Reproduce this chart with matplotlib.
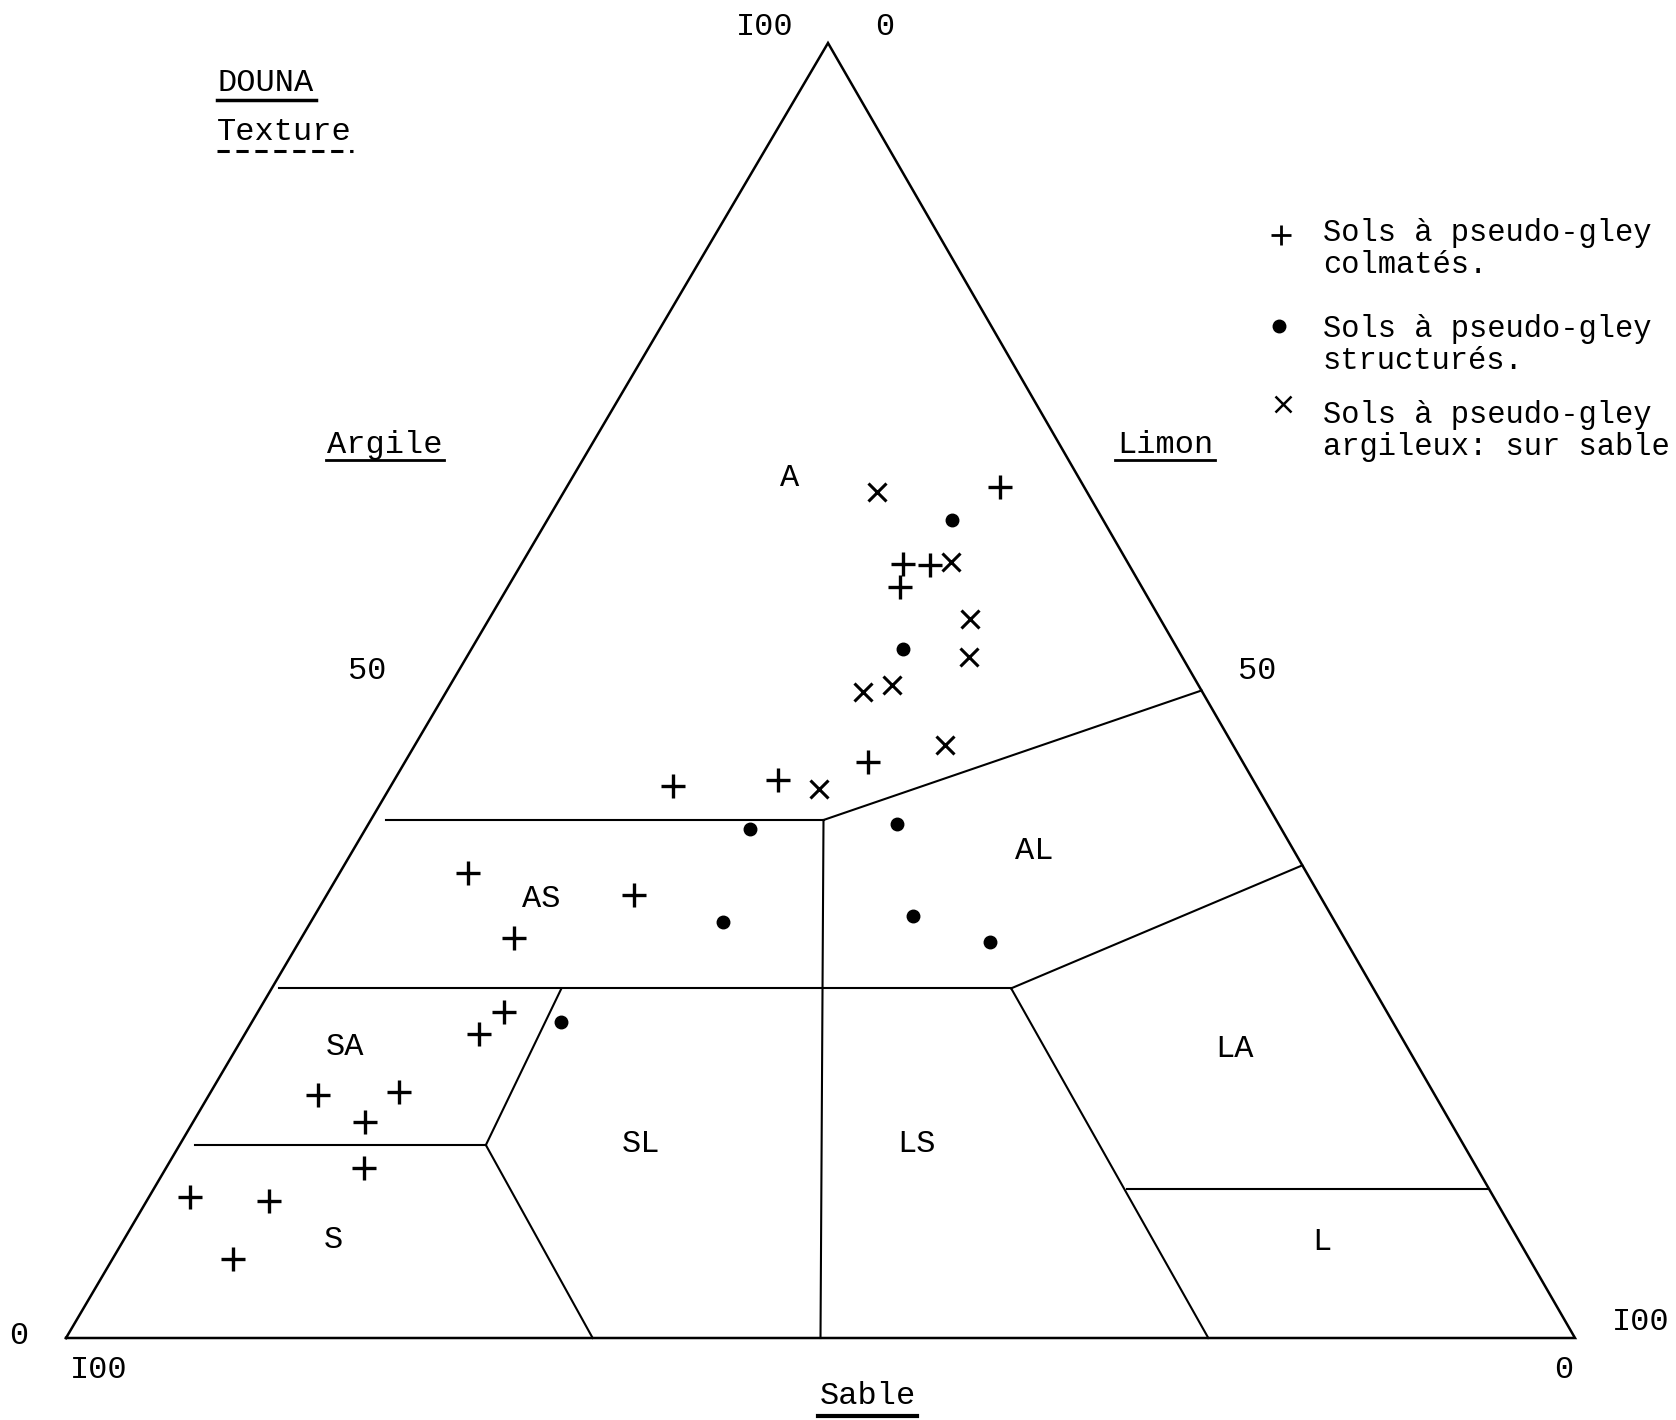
import numpy as np
import matplotlib.pyplot as plt
from matplotlib.transforms import Affine2D

# Soil texture triangle, DOUNA
# compositions in % : clay (Argile) and silt (Limon), sand (Sable) is the rest
colmates_clay = [65.7, 59.8, 59.7, 58.0, 44.5, 43.1, 42.6, 35.9, 34.2, 30.9,
                 25.2, 23.5, 18.8, 19.0, 16.7, 13.1, 10.9, 10.6, 6.1]
colmates_silt = [28.7, 25.3, 27.1, 26.0, 30.7, 25.4, 18.7, 8.5, 20.4, 14.1,
                 16.3, 15.5, 7.2, 12.5, 11.4, 13.1, 2.7, 8.1, 8.0]

structures_clay = [63.2, 53.2, 39.3, 39.7, 32.1, 32.6, 30.6, 24.4]
structures_silt = [26.8, 28.6, 25.5, 35.0, 27.3, 39.7, 45.8, 20.5]

argileux_clay = [65.3, 59.9, 55.5, 52.6, 49.9, 50.4, 45.8, 42.4]
argileux_silt = [20.8, 28.4, 31.9, 33.3, 27.6, 29.3, 35.1, 28.5]

# texture class limits, (clay, silt) at both ends
limits = [
    ((40, 1), (40, 30)),
    ((40, 30), (0, 50)),
    ((40, 30), (50, 50)),
    ((27, 0.5), (27, 49)),
    ((27, 49), (36.5, 63.5)),
    ((27, 49), (0, 75.7)),
    ((11.5, 64.5), (11.5, 88.5)),
    ((27, 19.2), (14.9, 20.3)),
    ((14.9, 20.3), (0, 34.9)),
    ((14.9, 1), (14.9, 20.3)),
]

class_names = ['A', 'AS', 'AL', 'SA', 'SL', 'LS', 'LA', 'L', 'S']
class_clay = [66.4, 33.9, 37.6, 22.5, 15.0, 15.0, 22.3, 7.4, 7.6]
class_silt = [14.4, 14.4, 45.2, 7.1, 30.5, 48.8, 66.2, 79.5, 13.9]

legend_labels = [
    'Sols à pseudo-gley\ncolmatés.',
    'Sols à pseudo-gley\nstructurés.',
    'Sols à pseudo-gley\nargileux: sur sable',
]

FONT = 'Liberation Mono'
W, H = 1676, 1420

fig = plt.figure(figsize=(W / 100, H / 100), dpi=100)
ax = fig.add_axes([0, 0, 1, 1])
ax.set_xlim(0, W)
ax.set_ylim(H, 0)
ax.axis('off')

# corners of the triangle on the page (sand, silt, clay)
bl = (66, 1338)
br = (1575, 1338)
top = (828, 43)
# (silt %, clay %) -> page position
tern = Affine2D(np.array([
    [(br[0] - bl[0]) / 100, (top[0] - bl[0]) / 100, bl[0]],
    [(br[1] - bl[1]) / 100, (top[1] - bl[1]) / 100, bl[1]],
    [0, 0, 1],
])) + ax.transData

ax.plot([0, 100, 0, 0], [0, 0, 100, 0], color='black', lw=1.8,
        transform=tern, solid_joinstyle='miter')

for (c0, s0), (c1, s1) in limits:
    ax.plot([s0, s1], [c0, c1], color='black', lw=1.5, transform=tern)

for name, c, s in zip(class_names, class_clay, class_silt):
    ax.text(s, c, name, transform=tern, family=FONT, fontsize=23,
            ha='center', va='center')

ax.plot(colmates_silt, colmates_clay, '+', color='black', ms=17, mew=2.4,
        ls='none', transform=tern)
ax.plot(structures_silt, structures_clay, 'o', color='black', ms=9,
        ls='none', transform=tern)
ax.plot(argileux_silt, argileux_clay, 'x', color='black', ms=13, mew=2.2,
        ls='none', transform=tern)

# scale numbers and axis names
txt = dict(family=FONT, fontsize=23, ha='center', va='center')
ax.text(765, 27, 'I00', **txt)
ax.text(885, 27, '0', **txt)
ax.text(367, 671, '50', **txt)
ax.text(1257, 671, '50', **txt)
ax.text(19, 1336, '0', **txt)
ax.text(99, 1370, 'I00', **txt)
ax.text(1564, 1370, '0', **txt)
ax.text(1641, 1322, 'I00', **txt)

ax.text(266, 83, 'DOUNA', **txt)
ax.plot([217, 316], [100, 100], color='black', lw=2.5)
ax.text(284, 132, 'Texture', **txt)
ax.plot([217, 353], [151, 151], color='black', lw=2.2, ls=(0, (4, 2.2)))

ax.text(385, 445, 'Argile', **txt)
ax.plot([326, 444], [460, 460], color='black', lw=2)
ax.text(1165, 445, 'Limon', **txt)
ax.plot([1115, 1215], [460, 460], color='black', lw=2)
ax.text(868, 1396, 'Sable', **txt)
ax.plot([818, 917], [1416, 1416], color='black', lw=3)

# key, drawn by hand so each symbol sits on the first line of its text
ax.plot(1281, 235, '+', color='black', ms=15, mew=2)
ax.plot(1279, 326, 'o', color='black', ms=9)
ax.plot(1283, 404, 'x', color='black', ms=11, mew=1.8)
for label, y in zip(legend_labels, [218, 314, 400]):
    ax.text(1323, y, label, family=FONT, fontsize=22, ha='left',
            va='top', linespacing=1.1)

fig.savefig('out.png', dpi=100, facecolor='white')
